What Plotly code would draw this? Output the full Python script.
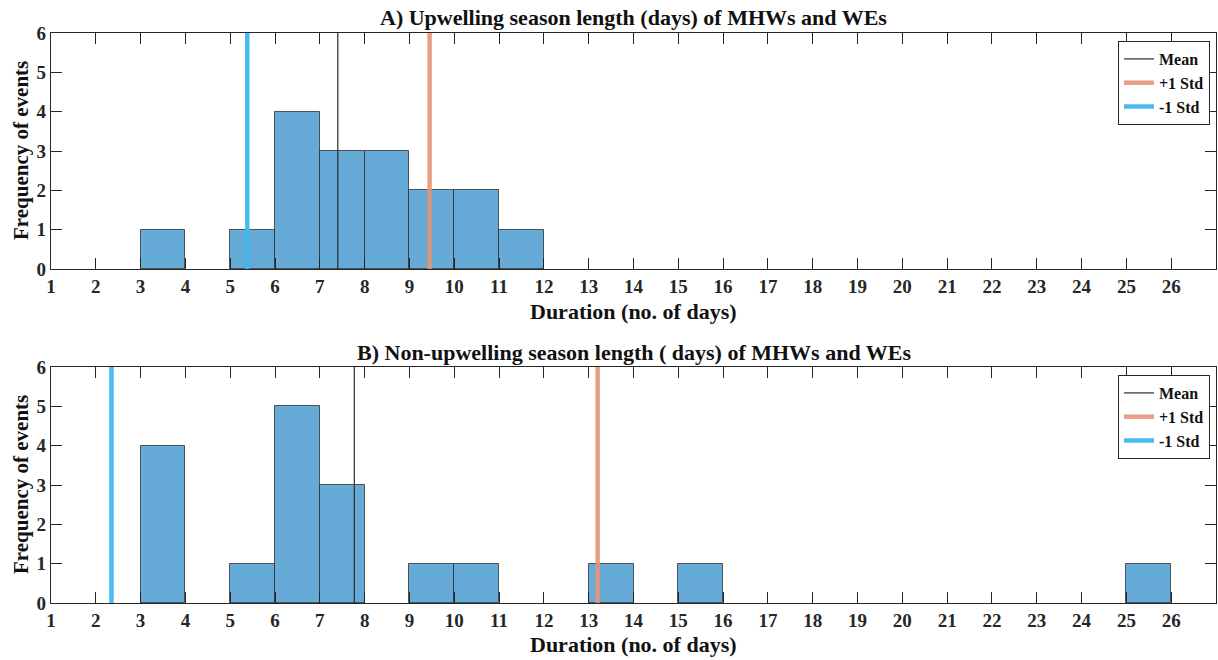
import plotly.graph_objects as go

# ---- data ----
bin_left = list(range(1, 27))  # left edges of 1-day bins
counts_A = [0, 0, 1, 0, 1, 4, 3, 3, 2, 2, 1, 0, 0, 0, 0, 0, 0, 0, 0, 0, 0, 0, 0, 0, 0, 0]
counts_B = [0, 0, 4, 0, 1, 5, 3, 0, 1, 1, 0, 0, 1, 0, 1, 0, 0, 0, 0, 0, 0, 0, 0, 0, 1, 0]
mean_A, plus_A, minus_A = 7.4, 9.45, 5.38
mean_B, plus_B, minus_B = 7.77, 13.2, 2.35
titles = ["A) Upwelling season length (days) of MHWs and WEs",
          "B) Non-upwelling season length ( days) of MHWs and WEs"]
x_title = "Duration (no. of days)"
y_title = "Frequency of events"
xticks = list(range(1, 27))
yticks = list(range(0, 7))

FONT = "Liberation Serif"
AX = "#262626"
OFF = 0                      # page body margin (removed by post_script)
W, H = 1218 - OFF, 660 - OFF
ML, MR, MT, MB = 51, 2, 33, 57
PW, PH = W - ML - MR, H - MT - MB

def px_x(page_x):  # page x -> paper x
    return (page_x - OFF - ML) / PW

def px_y(page_y):  # page y -> paper y
    return (H - MB - (page_y - OFF)) / PH

fig = go.Figure()

panels = [
    dict(counts=counts_A, mean=mean_A, plus=plus_A, minus=minus_A, xa="x", ya="y", legend="legend",
         top=33, bottom=269, title=titles[0], ttl_y=18, xt_y=311),
    dict(counts=counts_B, mean=mean_B, plus=plus_B, minus=minus_B, xa="x2", ya="y2", legend="legend2",
         top=367, bottom=603, title=titles[1], ttl_y=352, xt_y=644),
]

layout = {}
annotations = []
tickfont = dict(family=FONT, size=19, color=AX, weight="bold")
for i, p in enumerate(panels):
    centers = [b + 0.5 for b, c in zip(bin_left, p["counts"]) if c > 0]
    vals = [c for c in p["counts"] if c > 0]
    fig.add_trace(go.Bar(x=centers, y=vals, width=1, xaxis=p["xa"], yaxis=p["ya"],
                         marker=dict(color="rgb(102,170,215)", line=dict(color="rgba(40,40,40,0.75)", width=1)),
                         showlegend=False, hoverinfo="skip"))
    fig.add_trace(go.Scatter(x=[p["mean"], p["mean"]], y=[0, 6], mode="lines", name="Mean",
                             line=dict(color="rgba(40,40,40,0.9)", width=1.3),
                             xaxis=p["xa"], yaxis=p["ya"], legend=p["legend"]))
    fig.add_trace(go.Scatter(x=[p["plus"], p["plus"]], y=[0, 6], mode="lines", name="+1 Std",
                             line=dict(color="rgba(228,150,118,0.9)", width=4.5),
                             xaxis=p["xa"], yaxis=p["ya"], legend=p["legend"]))
    fig.add_trace(go.Scatter(x=[p["minus"], p["minus"]], y=[0, 6], mode="lines", name="-1 Std",
                             line=dict(color="rgba(60,185,235,0.95)", width=4.5),
                             xaxis=p["xa"], yaxis=p["ya"], legend=p["legend"]))
    sfx = "" if i == 0 else "2"
    ydom = [px_y(p["bottom"]), px_y(p["top"])]
    common = dict(ticks="inside", ticklen=11, tickwidth=1.2, tickcolor=AX,
                  showline=True, linecolor=AX, linewidth=1.2, mirror="ticks",
                  showgrid=False, zeroline=False, automargin=False, fixedrange=True,
                  tickfont=tickfont)
    layout["xaxis" + sfx] = dict(domain=[0, 1], range=[1, 27], tickvals=xticks,
                                 anchor="y" + sfx, **common)
    layout["yaxis" + sfx] = dict(domain=ydom, range=[0, 6], tickvals=yticks,
                                 anchor="x" + sfx, **common)
    cx = px_x((51 + 1216) / 2)
    annotations.append(dict(text=p["title"], x=cx, y=px_y(p["ttl_y"]),
                            xref="paper", yref="paper", xanchor="center", yanchor="middle",
                            showarrow=False, font=dict(family=FONT, size=22, color="#111", weight="bold")))
    annotations.append(dict(text=x_title, x=cx, y=px_y(p["xt_y"]),
                            xref="paper", yref="paper", xanchor="center", yanchor="middle",
                            showarrow=False, font=dict(family=FONT, size=22, color="#111", weight="bold")))
    annotations.append(dict(text=y_title, x=px_x(21), y=px_y((p["top"] + p["bottom"]) / 2),
                            xref="paper", yref="paper", xanchor="center", yanchor="middle",
                            textangle=-90, showarrow=False,
                            font=dict(family=FONT, size=21, color="#111", weight="bold")))
    layout[p["legend"]] = dict(x=px_x(1210), y=px_y(p["top"] + 8), xanchor="right", yanchor="top",
                               xref="paper", yref="paper",
                               bgcolor="white", bordercolor=AX, borderwidth=1,
                               font=dict(family=FONT, size=16, color="#111", weight="bold"),
                               tracegroupgap=0, itemwidth=30)

fig.update_layout(width=W, height=H, margin=dict(l=ML, r=MR, t=MT, b=MB, autoexpand=False),
                  paper_bgcolor="white", plot_bgcolor="white", bargap=0,
                  annotations=annotations, **layout)

fig.write_html("out.html", config={"displayModeBar": False, "staticPlot": False},
               post_script="document.body.style.margin='0';document.body.style.overflow='hidden';")
